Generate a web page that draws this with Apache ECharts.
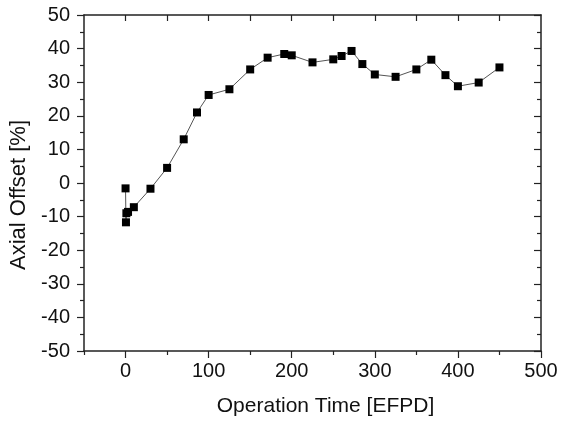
<!DOCTYPE html>
<html><head><meta charset="utf-8">
<script src="https://cdn.jsdelivr.net/npm/echarts@6/dist/echarts.min.js"></script>
<style>html,body{margin:0;padding:0;background:#fff}#c{width:571px;height:424px}</style>
</head><body><div id="c"></div>
<script>
const days = [0, 0.5, 1, 3, 10, 30, 50, 70, 86, 100, 125, 150, 171, 191, 200, 225, 250, 260, 272, 285, 300, 325, 350, 368, 385, 400, 425, 450];
const offset = [-1.6, -11.7, -9.0, -8.6, -7.2, -1.7, 4.5, 13.0, 21.0, 26.2, 27.9, 33.8, 37.3, 38.4, 38.0, 35.9, 36.8, 37.8, 39.3, 35.4, 32.3, 31.6, 33.8, 36.7, 32.1, 28.8, 29.9, 34.4];
const xMajor = [0, 100, 200, 300, 400, 500];
const xMinor = [-50, 50, 150, 250, 350, 450];
const xTop = [0, 50, 100, 150, 200, 250, 300, 350, 400, 450];

const FONT = 'Liberation Sans, Arial, sans-serif';
const AX = '#222';
const chart = echarts.init(document.getElementById('c'), null, {renderer: 'canvas'});
const data = days.map((d, i) => [d, offset[i]]);
chart.setOption({
  animation: false,
  backgroundColor: '#fff',
  grid: {left: 84, right: 30, top: 15, bottom: 73},
  xAxis: [
    {type: 'value', position: 'bottom', min: -50, max: 500,
     name: 'Operation Time [EFPD]', nameLocation: 'middle', nameGap: 45,
     nameTextStyle: {fontFamily: FONT, fontSize: 21, color: '#111', padding: [0, 0, 0, 26]},
     axisLine: {show: true, onZero: false, lineStyle: {color: AX, width: 1.5}},
     axisTick: {show: true, length: 7, customValues: xMajor, lineStyle: {color: AX, width: 1.2}},
     axisLabel: {customValues: xMajor, margin: 10, fontFamily: FONT, fontSize: 20, color: '#111'},
     splitLine: {show: false}},
    {type: 'value', position: 'bottom', min: -50, max: 500,
     axisLine: {show: false, onZero: false},
     axisTick: {show: true, length: 4, customValues: xMinor, lineStyle: {color: AX, width: 1.2}},
     axisLabel: {show: false}, splitLine: {show: false}},
    {type: 'value', position: 'top', min: -50, max: 500,
     axisLine: {show: true, onZero: false, lineStyle: {color: AX, width: 1.5}},
     axisTick: {show: true, inside: true, length: 6, customValues: xTop, lineStyle: {color: AX, width: 1.2}},
     axisLabel: {show: false}, splitLine: {show: false}}
  ],
  yAxis: [
    {type: 'value', position: 'left', min: -50, max: 50, interval: 10,
     name: 'Axial Offset [%]', nameLocation: 'middle', nameGap: 48,
     nameTextStyle: {fontFamily: FONT, fontSize: 22, color: '#111', padding: [0, 24, 0, 0]},
     axisLine: {show: true, onZero: false, lineStyle: {color: AX, width: 1.5}},
     axisTick: {show: true, length: 7, lineStyle: {color: AX, width: 1.2}},
     minorTick: {show: true, splitNumber: 2, length: 4, lineStyle: {color: AX, width: 1.2}},
     axisLabel: {margin: 14, fontFamily: FONT, fontSize: 20, color: '#111'},
     splitLine: {show: false}},
    {type: 'value', position: 'right', min: -50, max: 50, interval: 10,
     axisLine: {show: true, onZero: false, lineStyle: {color: AX, width: 1.5}},
     axisTick: {show: true, inside: true, length: 7, lineStyle: {color: AX, width: 1.2}},
     minorTick: {show: true, splitNumber: 2, length: 4, lineStyle: {color: AX, width: 1.2}},
     axisLabel: {show: false}, splitLine: {show: false}}
  ],
  series: [{
    type: 'line', xAxisIndex: 0, yAxisIndex: 0, data: data,
    symbol: 'rect', symbolSize: 8,
    itemStyle: {color: '#000'},
    lineStyle: {color: '#555', width: 1}
  }]
});
</script></body></html>
